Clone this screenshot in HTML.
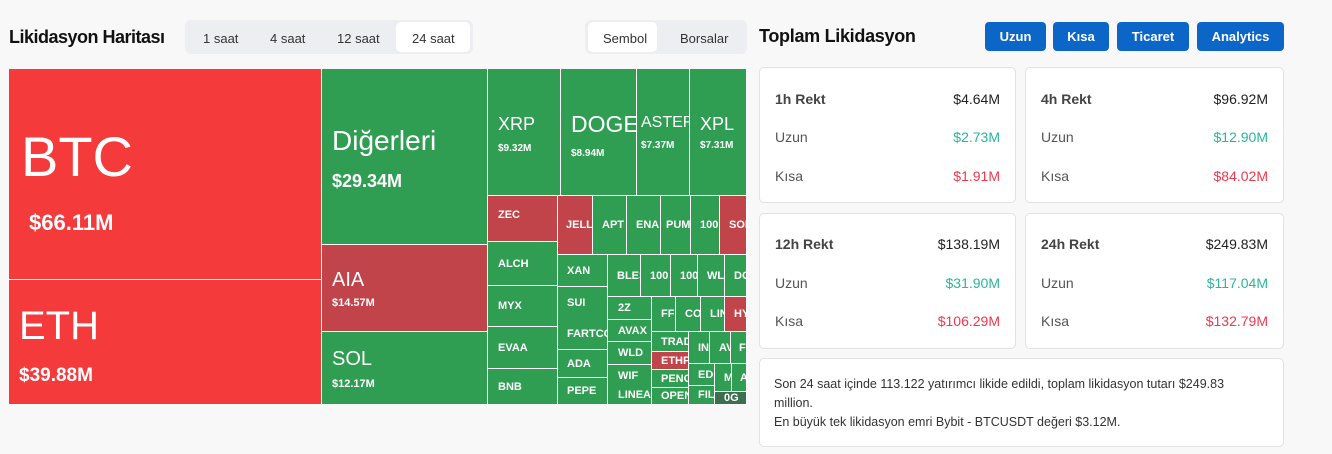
<!DOCTYPE html>
<html><head><meta charset="utf-8"><style>
*{margin:0;padding:0;box-sizing:border-box}
body{width:1332px;height:454px;background:#f8f8f8;font-family:"Liberation Sans",sans-serif;position:relative;overflow:hidden}
.a{position:absolute}
.c{position:absolute;background:#2f9e52;color:#fff;font-weight:bold;font-size:11px;overflow:hidden;white-space:nowrap;display:flex;align-items:center;padding-left:10px;border-right:1px solid #fff;border-bottom:1px solid #fff}
.r{background:#c0444a}.R{background:#f53a3c}
.tab{position:absolute;top:31px;font-size:13px;color:#333}
.btn{position:absolute;top:22px;height:29px;background:#0b66c8;color:#fff;font-weight:bold;font-size:13px;border-radius:4px;display:flex;align-items:center;justify-content:center}
.card{position:absolute;background:#fff;border:1px solid #e2e2e2;border-radius:5px}
.row{position:absolute;left:15px;right:15px;display:flex;justify-content:space-between;font-size:14px;color:#555}
.g{color:#2bb59a}.k{color:#f0384c}
</style></head><body>
<div class="a" style="left:9px;top:27px;font-size:18px;font-weight:bold;color:#111;letter-spacing:-0.5px">Likidasyon Haritası</div>
<div class="a" style="left:185px;top:20px;width:288px;height:34px;background:#eceef1;border-radius:6px"></div>
<div class="a" style="left:396px;top:22px;width:74px;height:30px;background:#fff;border-radius:5px"></div>
<div class="tab" style="left:203px">1 saat</div>
<div class="tab" style="left:270px">4 saat</div>
<div class="tab" style="left:337px">12 saat</div>
<div class="tab" style="left:412px">24 saat</div>
<div class="a" style="left:585px;top:20px;width:162px;height:34px;background:#eceef1;border-radius:6px"></div>
<div class="a" style="left:588px;top:22px;width:69px;height:30px;background:#fff;border-radius:5px"></div>
<div class="tab" style="left:603px">Sembol</div>
<div class="tab" style="left:680px">Borsalar</div>

<div class="c R" style="left:9px;top:69px;width:313px;height:211px;display:block;padding:0">
<div class="a" style="left:12px;top:55px;font-size:56px;font-weight:normal">BTC</div>
<div class="a" style="left:20px;top:141px;font-size:22px">$66.11M</div></div>
<div class="c R" style="left:9px;top:280px;width:313px;height:125px;display:block;padding:0">
<div class="a" style="left:10px;top:24px;font-size:40px;font-weight:normal">ETH</div>
<div class="a" style="left:10px;top:85px;font-size:19px">$39.88M</div></div>
<div class="c" style="left:322px;top:69px;width:166px;height:176px;display:block;padding:0">
<div class="a" style="left:10px;top:56px;font-size:28px;font-weight:normal">Diğerleri</div>
<div class="a" style="left:10px;top:102px;font-size:18px">$29.34M</div></div>
<div class="c r" style="left:322px;top:245px;width:166px;height:87px;display:block;padding:0">
<div class="a" style="left:10px;top:24px;font-size:20px;font-weight:normal">AIA</div>
<div class="a" style="left:10px;top:52px;font-size:11px">$14.57M</div></div>
<div class="c" style="left:322px;top:332px;width:166px;height:73px;display:block;padding:0">
<div class="a" style="left:10px;top:16px;font-size:20px;font-weight:normal">SOL</div>
<div class="a" style="left:10px;top:46px;font-size:11px">$12.17M</div></div>
<div class="c" style="left:488px;top:69px;width:73px;height:127px;display:block;padding:0">
<div class="a" style="left:10px;top:45px;font-size:18px;font-weight:normal">XRP</div>
<div class="a" style="left:10px;top:74px;font-size:10px">$9.32M</div></div>
<div class="c" style="left:561px;top:69px;width:76px;height:127px;display:block;padding:0">
<div class="a" style="left:10px;top:42px;font-size:23px;font-weight:normal">DOGE</div>
<div class="a" style="left:10px;top:79px;font-size:10px">$8.94M</div></div>
<div class="c" style="left:637px;top:69px;width:53px;height:127px;display:block;padding:0">
<div class="a" style="left:4px;top:45px;font-size:16px;font-weight:normal">ASTER</div>
<div class="a" style="left:4px;top:71px;font-size:10px">$7.37M</div></div>
<div class="c" style="left:690px;top:69px;width:57px;height:127px;display:block;padding:0">
<div class="a" style="left:10px;top:45px;font-size:18px;font-weight:normal">XPL</div>
<div class="a" style="left:10px;top:71px;font-size:10px">$7.31M</div></div>

<div class="c r" style="left:488px;top:196px;width:70px;height:46px;padding-bottom:8px">ZEC</div>
<div class="c r" style="left:558px;top:196px;width:35px;height:59px;padding-left:8px">JELLY</div>
<div class="c" style="left:593px;top:196px;width:34px;height:59px;padding-left:9px">APT</div>
<div class="c" style="left:627px;top:196px;width:34px;height:59px;padding-left:9px">ENA</div>
<div class="c" style="left:661px;top:196px;width:30px;height:59px;padding-left:5px">PUMP</div>
<div class="c" style="left:691px;top:196px;width:29px;height:59px;padding-left:9px">100</div>
<div class="c r" style="left:720px;top:196px;width:27px;height:59px;padding-left:9px">SON</div>
<div class="c" style="left:488px;top:242px;width:70px;height:44px">ALCH</div>
<div class="c" style="left:488px;top:286px;width:70px;height:41px">MYX</div>
<div class="c" style="left:488px;top:327px;width:70px;height:42px">EVAA</div>
<div class="c" style="left:488px;top:369px;width:70px;height:36px">BNB</div>
<div class="c" style="left:558px;top:255px;width:50px;height:32px;padding-left:9px">XAN</div>
<div class="c" style="left:558px;top:287px;width:50px;height:32px;padding-left:9px;border-bottom:none">SUI</div>
<div class="c" style="left:558px;top:319px;width:50px;height:31px;padding-left:9px">FARTCOIN</div>
<div class="c" style="left:558px;top:350px;width:50px;height:28px;padding-left:9px">ADA</div>
<div class="c" style="left:558px;top:378px;width:50px;height:27px;padding-left:9px">PEPE</div>
<div class="c" style="left:608px;top:255px;width:33px;height:42px;padding-left:9px">BLES</div>
<div class="c" style="left:641px;top:255px;width:30px;height:42px;padding-left:9px">100</div>
<div class="c" style="left:671px;top:255px;width:27px;height:42px;padding-left:9px">100</div>
<div class="c" style="left:698px;top:255px;width:27px;height:42px;padding-left:9px">WL</div>
<div class="c" style="left:725px;top:255px;width:22px;height:42px;padding-left:9px">DO</div>
<div class="c" style="left:608px;top:297px;width:44px;height:23px;padding-left:10px">2Z</div>
<div class="c" style="left:608px;top:320px;width:44px;height:22px;padding-left:10px">AVAX</div>
<div class="c" style="left:608px;top:342px;width:44px;height:23px;padding-left:10px">WLD</div>
<div class="c" style="left:608px;top:365px;width:44px;height:21px;padding-left:10px;border-bottom:none">WIF</div>
<div class="c" style="left:608px;top:386px;width:44px;height:19px;padding-left:10px">LINEA</div>
<div class="c" style="left:652px;top:297px;width:24px;height:35px;padding-left:9px">FF</div>
<div class="c" style="left:676px;top:297px;width:25px;height:35px;padding-left:9px">CO</div>
<div class="c" style="left:701px;top:297px;width:24px;height:35px;padding-left:9px">LIN</div>
<div class="c r" style="left:725px;top:297px;width:22px;height:35px;padding-left:9px">HY</div>
<div class="c" style="left:652px;top:332px;width:37px;height:20px;padding-left:9px">TRAD</div>
<div class="c r" style="left:652px;top:352px;width:37px;height:18px;padding-left:9px">ETHF</div>
<div class="c" style="left:652px;top:370px;width:37px;height:18px;padding-left:9px">PENG</div>
<div class="c" style="left:652px;top:388px;width:37px;height:17px;padding-left:9px">OPEN</div>
<div class="c" style="left:689px;top:332px;width:21px;height:32px;padding-left:9px">IN</div>
<div class="c" style="left:710px;top:332px;width:21px;height:32px;padding-left:9px">AV</div>
<div class="c" style="left:731px;top:332px;width:16px;height:32px;padding-left:8px">FI</div>
<div class="c" style="left:689px;top:364px;width:26px;height:22px;padding-left:9px">EDI</div>
<div class="c" style="left:689px;top:386px;width:26px;height:19px;padding-left:9px">FIL</div>
<div class="c" style="left:715px;top:364px;width:17px;height:28px;padding-left:9px">M</div>
<div class="c" style="left:732px;top:364px;width:15px;height:28px;padding-left:8px">A</div>
<div class="c" style="left:715px;top:392px;width:32px;height:13px;padding-left:9px;background:#3d6e50">0G</div>

<div class="a" style="left:759px;top:26px;font-size:18px;font-weight:bold;color:#111;letter-spacing:-0.3px">Toplam Likidasyon</div>
<div class="btn" style="left:985px;width:61px">Uzun</div>
<div class="btn" style="left:1053px;width:56px">Kısa</div>
<div class="btn" style="left:1117px;width:72px">Ticaret</div>
<div class="btn" style="left:1197px;width:87px">Analytics</div>

<div class="card" style="left:759px;top:67px;width:257px;height:136px">
<div class="row" style="top:23px"><b style="font-weight:bold;color:#444">1h Rekt</b><span style="color:#222">$4.64M</span></div>
<div class="row" style="top:61px"><span>Uzun</span><span class="g">$2.73M</span></div>
<div class="row" style="top:100px"><span>Kısa</span><span class="k">$1.91M</span></div></div>
<div class="card" style="left:1025px;top:67px;width:259px;height:136px">
<div class="row" style="top:23px"><b style="color:#444">4h Rekt</b><span style="color:#222">$96.92M</span></div>
<div class="row" style="top:61px"><span>Uzun</span><span class="g">$12.90M</span></div>
<div class="row" style="top:100px"><span>Kısa</span><span class="k">$84.02M</span></div></div>
<div class="card" style="left:759px;top:213px;width:257px;height:136px">
<div class="row" style="top:22px"><b style="color:#444">12h Rekt</b><span style="color:#222">$138.19M</span></div>
<div class="row" style="top:61px"><span>Uzun</span><span class="g">$31.90M</span></div>
<div class="row" style="top:99px"><span>Kısa</span><span class="k">$106.29M</span></div></div>
<div class="card" style="left:1025px;top:213px;width:259px;height:136px">
<div class="row" style="top:22px"><b style="color:#444">24h Rekt</b><span style="color:#222">$249.83M</span></div>
<div class="row" style="top:61px"><span>Uzun</span><span class="g">$117.04M</span></div>
<div class="row" style="top:99px"><span>Kısa</span><span class="k">$132.79M</span></div></div>
<div class="card" style="left:759px;top:358px;width:525px;height:89px;padding:16px 14px 0 14px;font-size:12.5px;color:#333;line-height:19px">
Son 24 saat içinde 113.122 yatırımcı likide edildi, toplam likidasyon tutarı $249.83<br>million.<br>En büyük tek likidasyon emri Bybit - BTCUSDT değeri $3.12M.</div>
</body></html>
